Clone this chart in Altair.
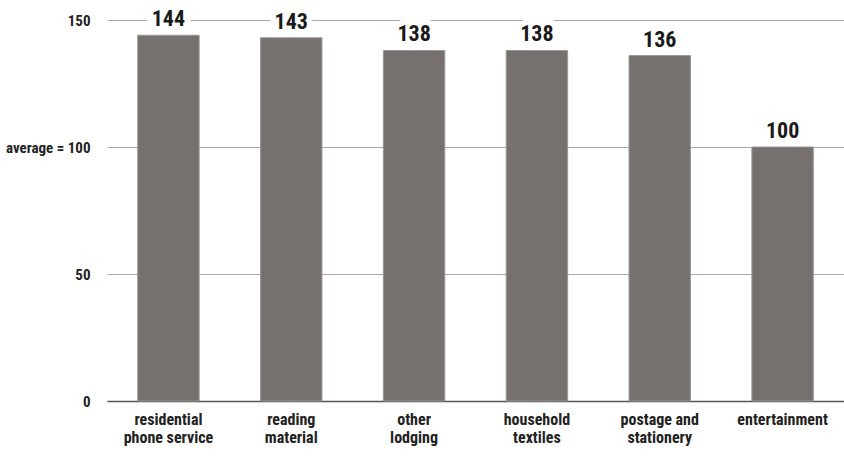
import altair as alt
import pandas as pd

categories = ["residential\nphone service", "reading\nmaterial", "other\nlodging",
              "household\ntextiles", "postage and\nstationery", "entertainment"]
values = [144, 143, 138, 138, 136, 100]
y_ticks = [0, 50, 100, 150]

df = pd.DataFrame({"category": categories, "value": values})
FONT = "'Roboto Condensed', 'DejaVu Sans Condensed', 'Liberation Sans Narrow', 'Arial Narrow', Roboto, sans-serif"

x = alt.X("category:N", sort=categories, title=None,
          scale=alt.Scale(paddingInner=0.5, paddingOuter=0.25),
          axis=alt.Axis(labelExpr="split(datum.value, '\\n')", labelAngle=0,
                        labelFont=FONT, labelFontWeight="bold", labelFontSize=16,
                        labelColor="#222222", labelLineHeight=18, labelPadding=10,
                        ticks=False, domainColor="#555555", domainWidth=1.5,
                        labelBaseline="top"))
y = alt.Y("value:Q", title=None,
          scale=alt.Scale(domain=[0, 150], nice=False),
          axis=alt.Axis(values=y_ticks, grid=True, gridColor="#a8a8a8", gridWidth=1,
                        domain=False, ticks=False, labelPadding=17,
                        labelFont=FONT, labelFontWeight="bold", labelFontSize=15,
                        labelColor="#222222",
                        labelExpr="datum.value == 100 ? 'average = 100' : datum.label"))

base = alt.Chart(df)
bars = base.mark_bar(color="#76716f", stroke="#9a9695", strokeWidth=1).encode(x=x, y=y)
halo = base.mark_text(baseline="bottom", dy=-4, font=FONT, fontWeight="bold", fontSize=22,
                      color="white", stroke="white", strokeWidth=12).encode(
    x=alt.X("category:N", sort=categories), y="value:Q", text="value:Q")
labels = base.mark_text(baseline="bottom", dy=-4, font=FONT, fontWeight="bold", fontSize=22,
                        color="#1a1a1a").encode(
    x=alt.X("category:N", sort=categories), y="value:Q", text="value:Q")

chart = (bars + halo + labels).properties(
    width=737, height=381,
    autosize=alt.AutoSizeParams(type="none"),
    padding={"left": 107, "top": 20, "right": 0, "bottom": 55},
).configure_view(stroke=None)

chart.save("out.html", embed_options={"renderer": "svg", "actions": False})
